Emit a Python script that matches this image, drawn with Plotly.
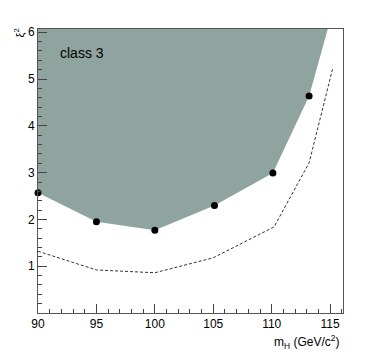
import plotly.graph_objects as go

# excluded region boundary (class 3)
mass_obs = [90, 95, 100, 105.1, 110.1, 113.2, 115.0]
xi2_obs = [2.57, 1.95, 1.77, 2.3, 2.99, 4.64, 6.25]
# marker points
mass_pts = [90, 95, 100, 105.1, 110.1, 113.2]
xi2_pts = [2.57, 1.95, 1.77, 2.3, 2.99, 4.64]
# expected limit (dashed)
mass_exp = [90, 95, 100, 105, 110.2, 113.2, 115.2]
xi2_exp = [1.32, 0.92, 0.86, 1.18, 1.84, 3.21, 5.21]

font = "Liberation Sans, Arial, sans-serif"

fig = go.Figure()

# shaded excluded area: boundary closed off above the plot top
fig.add_trace(go.Scatter(
    x=mass_obs + [115.0, 90],
    y=xi2_obs + [8, 8],
    fill="toself", fillcolor="#8fa39f",
    line=dict(width=0), mode="lines", hoverinfo="skip"
))

fig.add_trace(go.Scatter(
    x=mass_exp, y=xi2_exp, mode="lines",
    line=dict(color="#333333", width=1, dash="3px,2px")
))

fig.add_trace(go.Scatter(
    x=mass_pts, y=xi2_pts, mode="markers",
    marker=dict(color="black", size=7), cliponaxis=False
))

fig.add_annotation(x=0.065, y=0.915, xref="paper", yref="paper", text="class 3",
                   showarrow=False, xanchor="left", yanchor="middle",
                   font=dict(family=font, size=14, color="black"))
fig.add_annotation(x=-0.063, y=1.01, xref="paper", yref="paper", text="ξ<sup>2</sup>",
                   showarrow=False, textangle=-90, xanchor="center", yanchor="top",
                   font=dict(family=font, size=11, color="black"))
fig.add_annotation(x=0.995, y=-0.065, xref="paper", yref="paper",
                   text="m<sub>H</sub> (GeV/c<sup>2</sup>)",
                   showarrow=False, xanchor="right", yanchor="top",
                   font=dict(family=font, size=12, color="black"))

# page body has an 8px default margin, so margins are offset to compensate
fig.update_layout(
    width=382, height=357,
    margin=dict(l=30, r=47, t=21, b=52),
    paper_bgcolor="white", plot_bgcolor="white",
    showlegend=False,
    font=dict(family=font, size=12, color="black"),
    xaxis=dict(
        range=[90, 116.1], tickvals=[90, 95, 100, 105, 110, 115], automargin=False,
        ticks="inside", ticklen=9, tickcolor="#444", showgrid=False, zeroline=False,
        showline=True, linecolor="#555", linewidth=1, mirror=True,
        minor=dict(ticks="inside", dtick=1, ticklen=4, tickcolor="#444", showgrid=False),
    ),
    yaxis=dict(
        range=[0, 6.07], tickvals=[1, 2, 3, 4, 5, 6], automargin=False,
        ticks="inside", ticklen=9, tickcolor="#444", showgrid=False, zeroline=False,
        showline=True, linecolor="#555", linewidth=1, mirror=True,
        minor=dict(ticks="inside", dtick=0.2, ticklen=4, tickcolor="#444", showgrid=False),
    ),
)

fig.write_html("out.html")
